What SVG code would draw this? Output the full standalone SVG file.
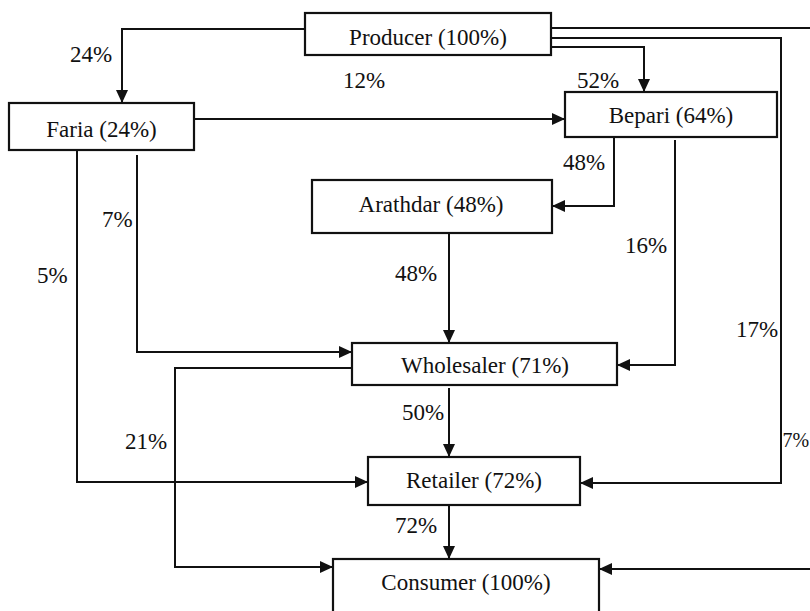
<svg xmlns="http://www.w3.org/2000/svg" width="810" height="611" viewBox="0 0 810 611">
  <style>
    .box { fill: #ffffff; stroke: #111111; stroke-width: 2.2; }
    .txt { font-family: "Liberation Serif", "Times New Roman", serif; font-size: 23px; fill: #111111; }
    .name { text-anchor: middle; }
    .link { fill: none; stroke: #111111; stroke-width: 2; marker-end: url(#arrow); }
  </style>
  <defs>
    <marker id="arrow" markerUnits="userSpaceOnUse" markerWidth="14" markerHeight="14" refX="13" refY="7" orient="auto">
      <path d="M0,1 L13,7 L0,13 z" fill="#111111"/>
    </marker>
  </defs>
  <rect width="810" height="611" fill="#ffffff"/>

  <!-- connectors -->
  <g id="connectors">
    <path class="link" d="M305,29 H122 V103"/>
    <path class="link" d="M551,28 H816 V569 H599"/>
    <path class="link" d="M551,38 H781 V483 H580"/>
    <path class="link" d="M551,47 H644 V92"/>
    <path class="link" d="M194,119 H565"/>
    <path class="link" d="M614,137 V206 H552"/>
    <path class="link" d="M675,140 V365 H617"/>
    <path class="link" d="M449,233 V343"/>
    <path class="link" d="M137,155 V352 H352"/>
    <path class="link" d="M77,150 V482 H368"/>
    <path class="link" d="M352,368 H175 V567 H333"/>
    <path class="link" d="M449,388 V457"/>
    <path class="link" d="M449,505 V559"/>
  </g>

  <!-- flow shares -->
  <g id="labels" class="txt">
    <text x="70" y="62">24%</text>
    <text x="343" y="88">12%</text>
    <text x="577" y="88">52%</text>
    <text x="563" y="170">48%</text>
    <text x="102" y="227">7%</text>
    <text x="37" y="283">5%</text>
    <text x="625" y="253">16%</text>
    <text x="395" y="281">48%</text>
    <text x="736" y="337">17%</text>
    <text x="402" y="420">50%</text>
    <text x="125" y="449">21%</text>
    <text x="782.5" y="447" style="font-size:20px">7%</text>
    <text x="395" y="533">72%</text>
  </g>

  <!-- nodes -->
  <g id="producer">
    <rect class="box" x="305" y="13" width="246" height="42"/>
    <text class="txt name" x="428" y="45">Producer (100%)</text>
  </g>
  <g id="faria">
    <rect class="box" x="9" y="103" width="185" height="47"/>
    <text class="txt name" x="101.5" y="137">Faria (24%)</text>
  </g>
  <g id="bepari">
    <rect class="box" x="565" y="92" width="212" height="45"/>
    <text class="txt name" x="671" y="123">Bepari (64%)</text>
  </g>
  <g id="arathdar">
    <rect class="box" x="312" y="180" width="240" height="53"/>
    <text class="txt name" x="431" y="212">Arathdar (48%)</text>
  </g>
  <g id="wholesaler">
    <rect class="box" x="352" y="343" width="265" height="42"/>
    <text class="txt name" x="485" y="373">Wholesaler (71%)</text>
  </g>
  <g id="retailer">
    <rect class="box" x="368" y="457" width="212" height="48"/>
    <text class="txt name" x="474" y="488">Retailer (72%)</text>
  </g>
  <g id="consumer">
    <rect class="box" x="333" y="559" width="266" height="70"/>
    <text class="txt name" x="466" y="590">Consumer (100%)</text>
  </g>
</svg>
